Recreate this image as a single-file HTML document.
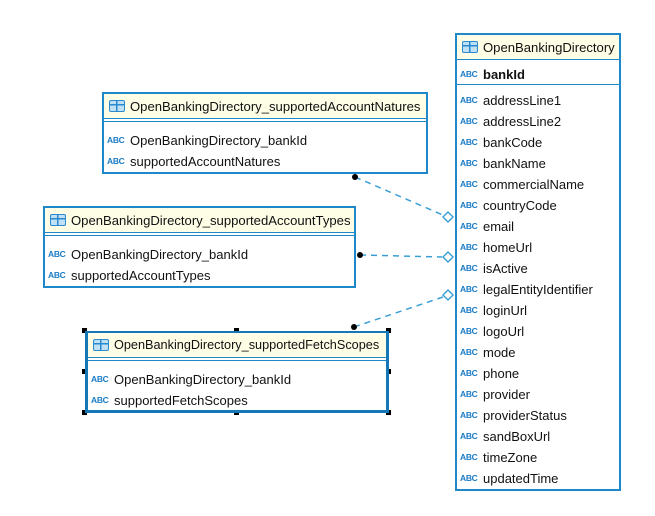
<!DOCTYPE html>
<html><head><meta charset="utf-8"><style>
body{margin:0;width:655px;height:516px;background:#fff;position:relative;overflow:hidden;font-family:"Liberation Sans",sans-serif;font-size:13px;color:#111}
.t{position:absolute;border:2px solid #1e88c8;background:#fff;box-sizing:border-box}
.h{height:24px;background:#fefde6;border-bottom:1px solid #1e88c8;display:flex;align-items:center;padding-left:5px;white-space:nowrap;font-size:13.1px;overflow:hidden}
.sep{height:2px;border-bottom:1px solid #1e88c8}
.r{position:absolute;left:3px;white-space:nowrap;display:flex;align-items:center;height:18px}
.ic{flex-shrink:0;display:inline-block;width:14px;height:10px;border:1.5px solid #2a8ad0;border-radius:2px;margin-right:5px;position:relative;background:linear-gradient(#2a8ad0,#2a8ad0) 0 3px/100% 1.5px no-repeat,linear-gradient(#2a8ad0,#2a8ad0) 6px 0/1.5px 100% no-repeat;background-color:#bfe0f5}
.a{flex-shrink:0;font-size:8.5px;font-weight:bold;color:#1a7cc6;margin-right:4px;letter-spacing:-0.3px;width:19px}
</style></head><body>
<svg width="655" height="516" style="position:absolute;left:0;top:0">
<g stroke="#3a9fd6" stroke-width="1.5" stroke-dasharray="6,5" fill="none">
<line x1="355" y1="177" x2="443" y2="215"/>
<line x1="360" y1="255" x2="442" y2="257"/>
<line x1="354" y1="327" x2="443" y2="297"/>
</g>
<g fill="#000"><circle cx="355" cy="177" r="3"/><circle cx="360" cy="255" r="3"/><circle cx="354" cy="327" r="3"/></g>
<g fill="#fff" stroke="#3a9fd6" stroke-width="1.4">
<path d="M448,212 l5,5 -5,5 -5,-5z"/><path d="M448,252 l5,5 -5,5 -5,-5z"/><path d="M448,290 l5,5 -5,5 -5,-5z"/>
</g>
<g fill="#000"><rect x="82" y="328" width="5" height="5"/><rect x="234" y="328" width="5" height="5"/><rect x="386" y="328" width="5" height="5"/><rect x="82" y="369" width="5" height="5"/><rect x="386" y="369" width="5" height="5"/><rect x="82" y="410" width="5" height="5"/><rect x="234" y="410" width="5" height="5"/><rect x="386" y="410" width="5" height="5"/></g>
</svg>

<div class="t" style="left:102px;top:92px;width:326px;height:82px"><div class="h"><span class="ic"></span>OpenBankingDirectory_supportedAccountNatures</div><div class="sep"></div>
<div class="r" style="top:37px"><span class="a">ABC</span>OpenBankingDirectory_bankId</div>
<div class="r" style="top:58px"><span class="a">ABC</span>supportedAccountNatures</div></div>

<div class="t" style="left:43px;top:206px;width:313px;height:82px"><div class="h"><span class="ic"></span>OpenBankingDirectory_supportedAccountTypes</div><div class="sep"></div>
<div class="r" style="top:37px"><span class="a">ABC</span>OpenBankingDirectory_bankId</div>
<div class="r" style="top:58px"><span class="a">ABC</span>supportedAccountTypes</div></div>

<div class="t" style="left:85px;top:331px;width:304px;height:82px;border:3px solid #1478b8;border-top-width:2px"><div class="h" style="font-size:12.7px"><span class="ic"></span>OpenBankingDirectory_supportedFetchScopes</div><div class="sep"></div>
<div class="r" style="top:37px"><span class="a">ABC</span>OpenBankingDirectory_bankId</div>
<div class="r" style="top:58px"><span class="a">ABC</span>supportedFetchScopes</div></div>

<div class="t" style="left:455px;top:33px;width:166px;height:458px"><div class="h"><span class="ic"></span>OpenBankingDirectory</div>
<div style="position:absolute;left:0;right:0;top:49px;border-bottom:1px solid #1e88c8"></div>
<div class="r" style="top:30px;font-weight:bold"><span class="a">ABC</span>bankId</div>
<div class="r" style="top:56px"><span class="a">ABC</span>addressLine1</div>
<div class="r" style="top:77px"><span class="a">ABC</span>addressLine2</div>
<div class="r" style="top:98px"><span class="a">ABC</span>bankCode</div>
<div class="r" style="top:119px"><span class="a">ABC</span>bankName</div>
<div class="r" style="top:140px"><span class="a">ABC</span>commercialName</div>
<div class="r" style="top:161px"><span class="a">ABC</span>countryCode</div>
<div class="r" style="top:182px"><span class="a">ABC</span>email</div>
<div class="r" style="top:203px"><span class="a">ABC</span>homeUrl</div>
<div class="r" style="top:224px"><span class="a">ABC</span>isActive</div>
<div class="r" style="top:245px"><span class="a">ABC</span>legalEntityIdentifier</div>
<div class="r" style="top:266px"><span class="a">ABC</span>loginUrl</div>
<div class="r" style="top:287px"><span class="a">ABC</span>logoUrl</div>
<div class="r" style="top:308px"><span class="a">ABC</span>mode</div>
<div class="r" style="top:329px"><span class="a">ABC</span>phone</div>
<div class="r" style="top:350px"><span class="a">ABC</span>provider</div>
<div class="r" style="top:371px"><span class="a">ABC</span>providerStatus</div>
<div class="r" style="top:392px"><span class="a">ABC</span>sandBoxUrl</div>
<div class="r" style="top:413px"><span class="a">ABC</span>timeZone</div>
<div class="r" style="top:434px"><span class="a">ABC</span>updatedTime</div>
</div>
</body></html>
